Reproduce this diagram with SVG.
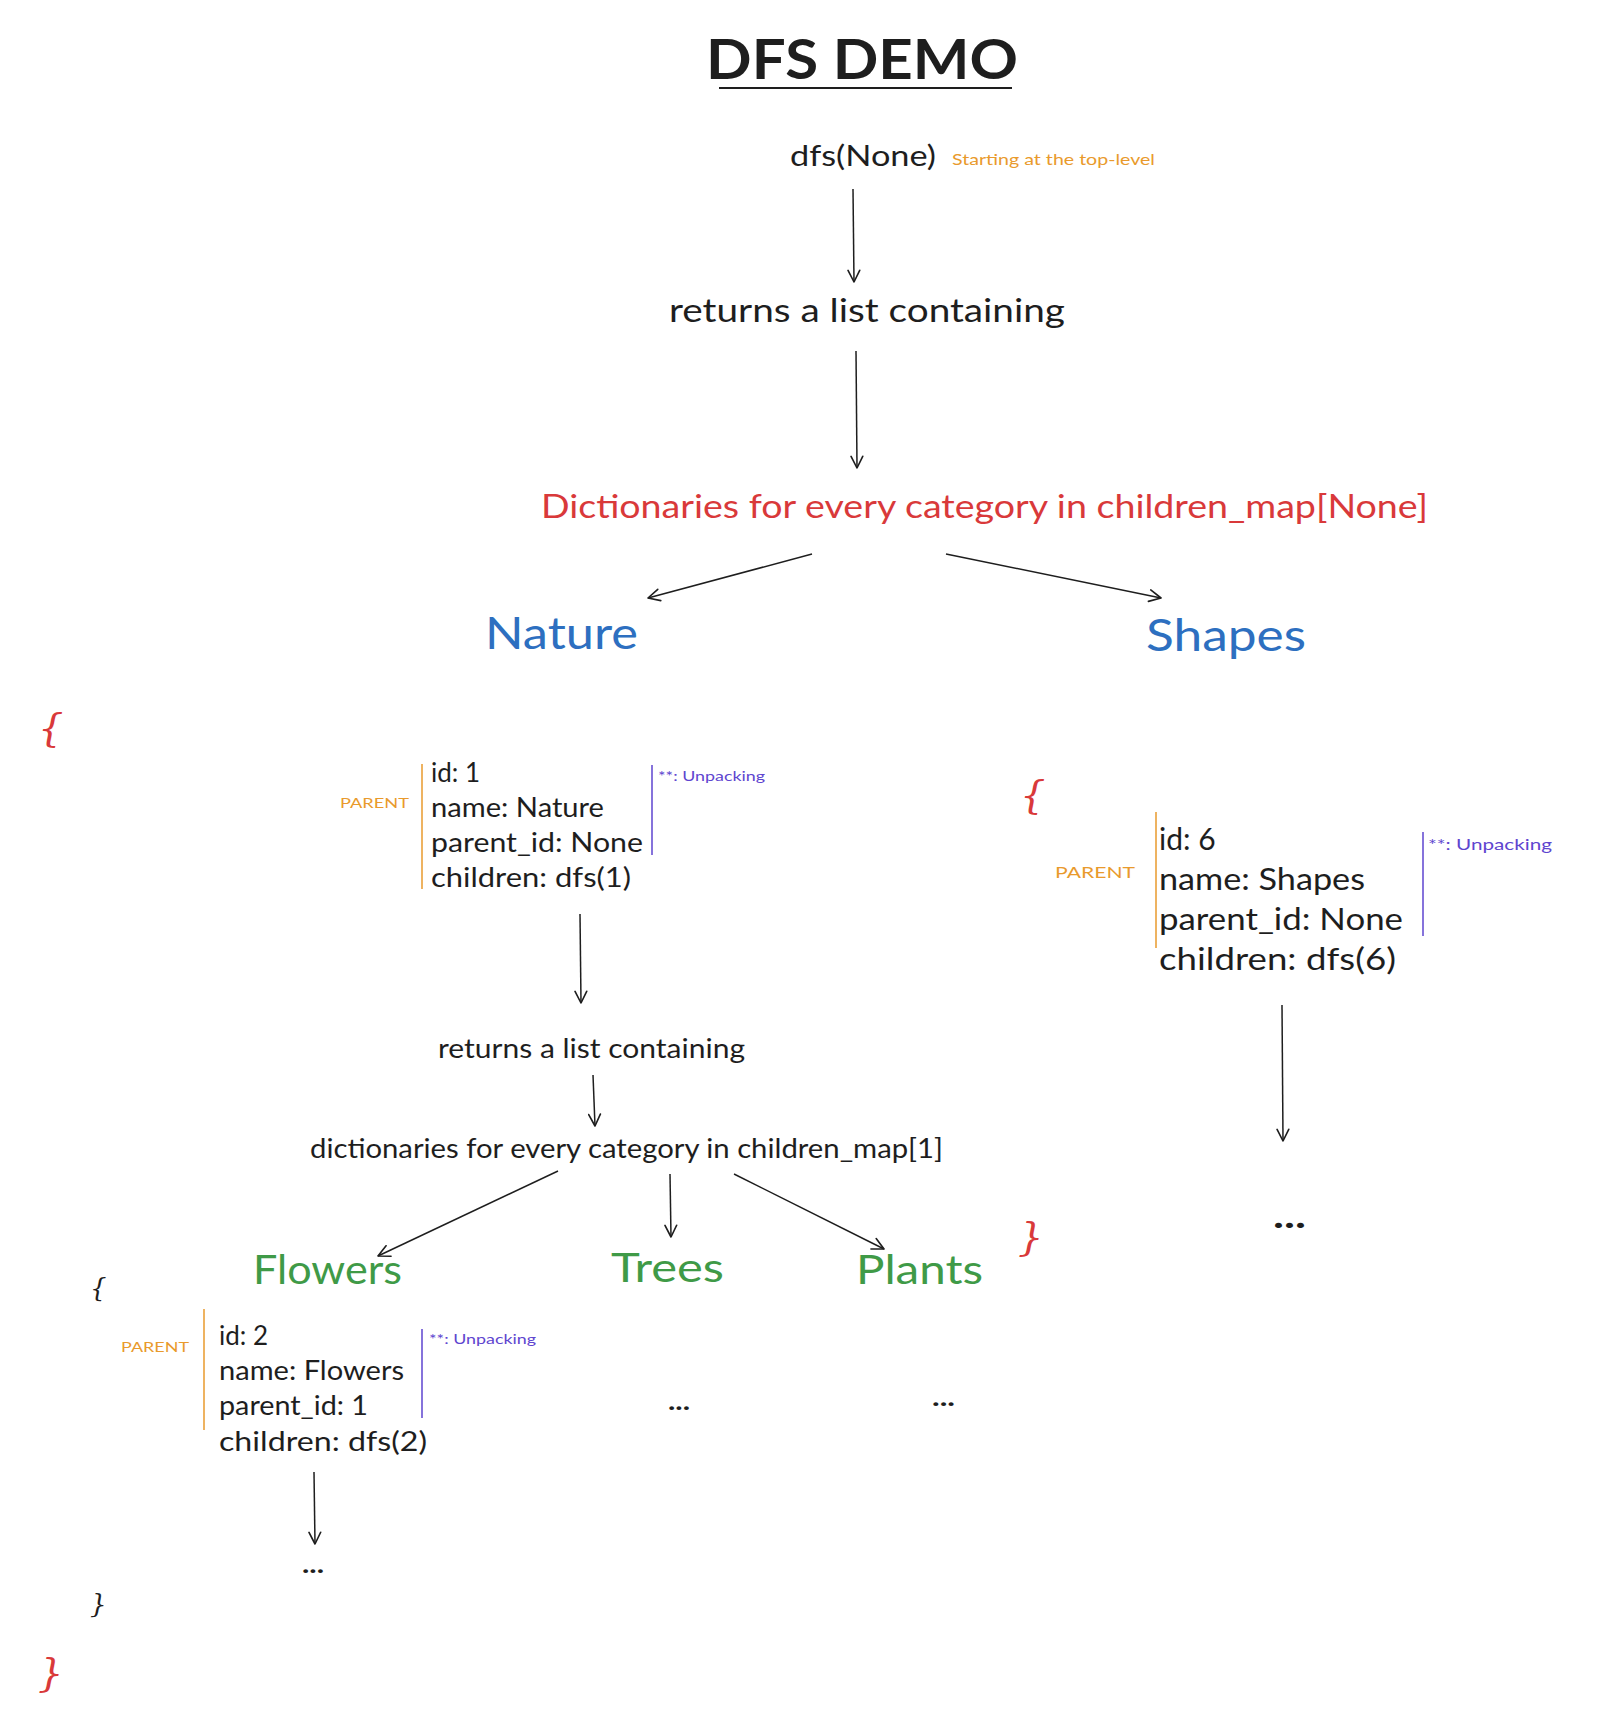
<svg xmlns="http://www.w3.org/2000/svg" width="1612" height="1716" viewBox="0 0 1612 1716">
<defs>
<marker id="ah" viewBox="0 0 12 12" refX="11" refY="6" markerWidth="14" markerHeight="14" markerUnits="userSpaceOnUse" orient="auto">
<path d="M1,1 L11,6 L1,11" fill="none" stroke="#1e1e1e" stroke-width="1.4" stroke-linecap="round" stroke-linejoin="round"/>
</marker>
<style>
text{font-family:"Lato","Open Sans","Noto Sans",sans-serif;fill:#1e1e1e}
.red{fill:#d9393a}
.blue{fill:#2d6fc0}
.green{fill:#3f9a47}
.orange{fill:#e99a2c}
.violet{fill:#5e45cf}
.conn line{stroke:#1e1e1e;stroke-width:1.5;fill:none;marker-end:url(#ah)}
.bar-o{stroke:#e99a2c;stroke-width:1.5}
.bar-v{stroke:#5e45cf;stroke-width:1.5}
.brace{font-family:"DejaVu Serif",serif;font-style:italic}
.dots{font-weight:bold}
</style>
</defs>
<rect width="1612" height="1716" fill="#ffffff"/>

<g id="title">
<text x="706" y="79" font-size="56" font-weight="bold" textLength="312" lengthAdjust="spacingAndGlyphs">DFS DEMO</text>
<line x1="719" y1="88" x2="1012" y2="88" stroke="#1e1e1e" stroke-width="2"/>
</g>

<g id="dfs-none">
<text x="790" y="166" font-size="28" textLength="146" lengthAdjust="spacingAndGlyphs">dfs(None)</text>
<text x="952" y="165" font-size="16" class="orange" textLength="203" lengthAdjust="spacingAndGlyphs">Starting at the top-level</text>
</g>

<g id="returns-top">
<text x="669" y="322" font-size="32" textLength="396" lengthAdjust="spacingAndGlyphs">returns a list containing</text>
</g>

<g id="dicts-none">
<text x="541" y="518" font-size="32" class="red" textLength="887" lengthAdjust="spacingAndGlyphs">Dictionaries for every category in children_map[None]</text>
</g>

<g id="nature">
<text x="485" y="649" font-size="44" class="blue" textLength="153" lengthAdjust="spacingAndGlyphs">Nature</text>
</g>

<g id="shapes">
<text x="1146" y="651" font-size="44" class="blue" textLength="160" lengthAdjust="spacingAndGlyphs">Shapes</text>
</g>

<g id="nature-open-brace"><text x="38" y="741" font-size="40" class="red brace">{</text></g>

<g id="nature-dict">
<line class="bar-o" x1="422" y1="764" x2="422" y2="889"/>
<text x="340" y="808" font-size="14" class="orange" textLength="69" lengthAdjust="spacingAndGlyphs">PARENT</text>
<text x="431" y="782" font-size="26">id: 1</text>
<text x="431" y="817" font-size="26" textLength="173" lengthAdjust="spacingAndGlyphs">name: Nature</text>
<text x="431" y="852" font-size="26" textLength="212" lengthAdjust="spacingAndGlyphs">parent_id: None</text>
<text x="431" y="887" font-size="26" textLength="200" lengthAdjust="spacingAndGlyphs">children: dfs(1)</text>
<line class="bar-v" x1="652" y1="765" x2="652" y2="855"/>
<text x="658" y="781" font-size="14" class="violet" textLength="107" lengthAdjust="spacingAndGlyphs">**: Unpacking</text>
</g>

<g id="returns-nature">
<text x="438" y="1058" font-size="26" textLength="307" lengthAdjust="spacingAndGlyphs">returns a list containing</text>
</g>

<g id="dicts-1">
<text x="310" y="1158" font-size="26" textLength="633" lengthAdjust="spacingAndGlyphs">dictionaries for every category in children_map[1]</text>
</g>

<g id="flowers"><text x="253" y="1284" font-size="40" class="green" textLength="149" lengthAdjust="spacingAndGlyphs">Flowers</text></g>
<g id="trees"><text x="611" y="1282" font-size="40" class="green" textLength="113" lengthAdjust="spacingAndGlyphs">Trees</text></g>
<g id="plants"><text x="856" y="1284" font-size="40" class="green" textLength="127" lengthAdjust="spacingAndGlyphs">Plants</text></g>

<g id="nature-close-brace"><text x="1018" y="1250" font-size="40" class="red brace">}</text></g>

<g id="shapes-open-brace"><text x="1020" y="808" font-size="40" class="red brace">{</text></g>

<g id="shapes-dict">
<line class="bar-o" x1="1156" y1="812" x2="1156" y2="948"/>
<text x="1055" y="878" font-size="16" class="orange" textLength="80" lengthAdjust="spacingAndGlyphs">PARENT</text>
<text x="1159" y="850" font-size="30">id: 6</text>
<text x="1159" y="890" font-size="30" textLength="206" lengthAdjust="spacingAndGlyphs">name: Shapes</text>
<text x="1159" y="930" font-size="30" textLength="244" lengthAdjust="spacingAndGlyphs">parent_id: None</text>
<text x="1159" y="970" font-size="30" textLength="237" lengthAdjust="spacingAndGlyphs">children: dfs(6)</text>
<line class="bar-v" x1="1423" y1="832" x2="1423" y2="936"/>
<text x="1428" y="850" font-size="16" class="violet" textLength="124" lengthAdjust="spacingAndGlyphs">**: Unpacking</text>
</g>

<g id="shapes-more"><text x="1273" y="1228" font-size="34" class="dots" textLength="33" lengthAdjust="spacingAndGlyphs">...</text></g>

<g id="flowers-open-brace"><text x="90" y="1297" font-size="26" class="brace">{</text></g>

<g id="flowers-dict">
<line class="bar-o" x1="204" y1="1309" x2="204" y2="1430"/>
<text x="121" y="1352" font-size="14" class="orange" textLength="68" lengthAdjust="spacingAndGlyphs">PARENT</text>
<text x="219" y="1345" font-size="26">id: 2</text>
<text x="219" y="1380" font-size="26" textLength="185" lengthAdjust="spacingAndGlyphs">name: Flowers</text>
<text x="219" y="1415" font-size="26" textLength="149" lengthAdjust="spacingAndGlyphs">parent_id: 1</text>
<text x="219" y="1451" font-size="26" textLength="208" lengthAdjust="spacingAndGlyphs">children: dfs(2)</text>
<line class="bar-v" x1="422" y1="1329" x2="422" y2="1418"/>
<text x="429" y="1344" font-size="14" class="violet" textLength="107" lengthAdjust="spacingAndGlyphs">**: Unpacking</text>
</g>

<g id="flowers-more"><text x="302" y="1573" font-size="24" class="dots" textLength="22" lengthAdjust="spacingAndGlyphs">...</text></g>
<g id="flowers-close-brace"><text x="90" y="1613" font-size="26" class="brace">}</text></g>
<g id="root-close-brace"><text x="38" y="1686" font-size="40" class="red brace">}</text></g>

<g id="trees-more"><text x="668" y="1410" font-size="24" class="dots" textLength="22" lengthAdjust="spacingAndGlyphs">...</text></g>
<g id="plants-more"><text x="932" y="1406" font-size="24" class="dots" textLength="23" lengthAdjust="spacingAndGlyphs">...</text></g>

<g id="connectors" class="conn">
<line x1="853" y1="189" x2="854" y2="282"/>
<line x1="856" y1="351" x2="857" y2="468"/>
<line x1="812" y1="554" x2="648" y2="598"/>
<line x1="946" y1="554" x2="1161" y2="598"/>
<line x1="580" y1="914" x2="581" y2="1003"/>
<line x1="593" y1="1075" x2="595" y2="1126"/>
<line x1="558" y1="1171" x2="378" y2="1256"/>
<line x1="670" y1="1174" x2="671" y2="1237"/>
<line x1="734" y1="1174" x2="884" y2="1249"/>
<line x1="1282" y1="1005" x2="1283" y2="1141"/>
<line x1="314" y1="1472" x2="315" y2="1544"/>
</g>
</svg>
